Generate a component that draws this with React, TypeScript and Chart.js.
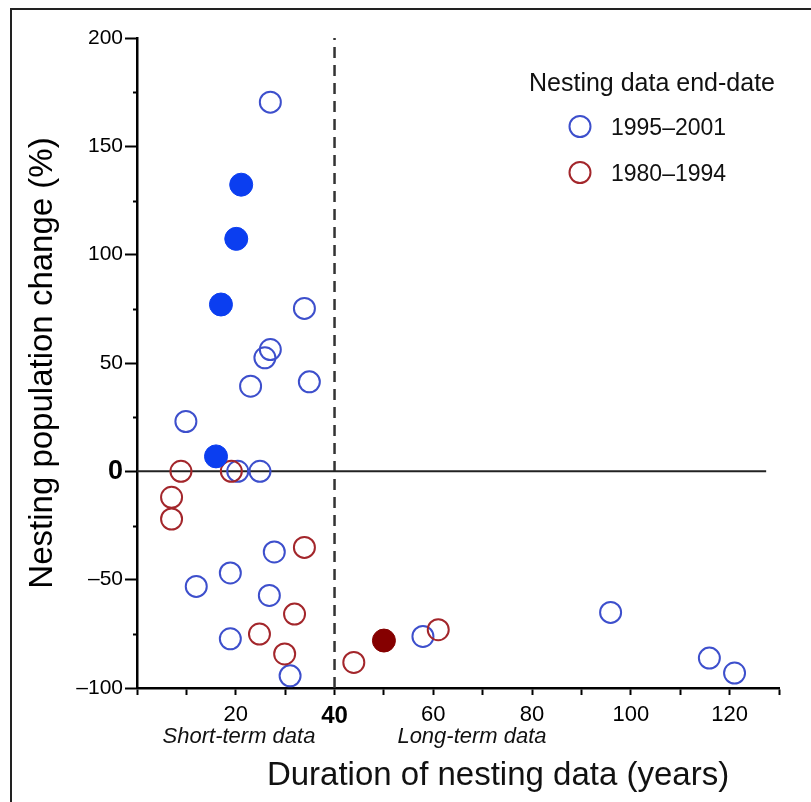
import React, { useEffect, useRef } from 'react';
import { Chart, registerables } from 'chart.js';

Chart.register(...registerables);

const FONT = '"Liberation Sans", Arial, Helvetica, sans-serif';

// 1995–2001 end-date, open circles
const recentX = [27, 33.9, 27, 25.9, 23, 34.9, 9.9, 20.4, 24.9, 27.8, 18.9, 12, 26.8, 18.9, 31, 57.9, 95.9, 115.9, 121];
const recentY = [170.4, 75.2, 56.2, 52.4, 39.3, 41.3, 23, 0, 0, -37.2, -46.9, -53.1, -57.3, -77.3, -94.4, -76.2, -65.1, -86.2, -93.1];

// 1980–1994 end-date, open circles
const olderX = [8.9, 19.1, 7, 7, 33.9, 31.9, 24.8, 29.9, 43.9, 61];
const olderY = [0, 0, -12, -22, -35.1, -65.9, -75.1, -84.3, -88.2, -73.1];

// highlighted (filled) points
const recentFilledX = [21.1, 20.1, 17, 16];
const recentFilledY = [132.3, 107.3, 77, 6.9];
const olderFilledX = [50];
const olderFilledY = [-78.1];

// reference lines
const zeroLineX = [0, 127.4];
const zeroLineY = [0, 0];
const splitLineX = [40, 40];
const splitLineY = [-100, 200];

const xTickValues = [20, 40, 60, 80, 100, 120];
const xTickLabels = ['20', '40', '60', '80', '100', '120'];
const yTickValues = [-100, -50, 0, 50, 100, 150, 200];
const yTickLabels = ['–100', '–50', '0', '50', '100', '150', '200'];

const legendTitle = 'Nesting data end-date';
const legendLabels = ['1995–2001', '1980–1994'];
const periodNotes = ['Short-term data', 'Long-term data'];
const xTitle = 'Duration of nesting data (years)';
const yTitle = 'Nesting population change (%)';

const BLUE = '#3d4fcc';
const RED = '#a3262b';
const BLUE_FILL = '#0b3ef0';
const RED_FILL = '#850000';

const pts = (xs: number[], ys: number[]) => xs.map((x, i) => ({ x, y: ys[i] }));

const annotationPlugin = {
  id: 'annotations',
  afterDraw(chart: any) {
    const { ctx, chartArea } = chart;
    const ys = chart.scales.y;
    ctx.save();
    // minor y ticks
    ctx.strokeStyle = '#000';
    ctx.lineWidth = 2;
    ys.ticks.forEach((t: any) => {
      if (t.value % 50 !== 0) {
        const py = Math.round(ys.getPixelForValue(t.value)) + 0.5;
        ctx.beginPath();
        ctx.moveTo(chartArea.left - 4, py);
        ctx.lineTo(chartArea.left, py);
        ctx.stroke();
      }
    });
    ctx.fillStyle = '#111';
    ctx.textBaseline = 'alphabetic';
    // period notes
    ctx.font = `italic 22px ${FONT}`;
    ctx.textAlign = 'center';
    ctx.fillText(periodNotes[0], 239, 743);
    ctx.fillText(periodNotes[1], 472, 743);
    // x title
    ctx.font = `33px ${FONT}`;
    ctx.fillText(xTitle, 498, 785);
    // legend
    ctx.textAlign = 'left';
    ctx.font = `25px ${FONT}`;
    ctx.fillText(legendTitle, 529, 91);
    const ds = chart.data.datasets;
    const rows = [126.5, 172.5];
    ctx.font = `23px ${FONT}`;
    legendLabels.forEach((lab, i) => {
      const d = ds.find((q: any) => q.label === lab);
      ctx.beginPath();
      ctx.arc(580, rows[i], 10.5, 0, Math.PI * 2);
      ctx.lineWidth = 2;
      ctx.strokeStyle = d ? d.borderColor : '#000';
      ctx.stroke();
      ctx.fillStyle = '#111';
      ctx.fillText(lab, 611, rows[i] + 8);
    });
    ctx.restore();
  },
};

export default function App() {
  const ref = useRef<HTMLCanvasElement | null>(null);

  useEffect(() => {
    if (!ref.current) return;
    const chart = new Chart(ref.current, {
      type: 'scatter',
      data: {
        datasets: [
          {
            label: 'filled-older',
            data: pts(olderFilledX, olderFilledY),
            backgroundColor: RED_FILL,
            borderColor: RED_FILL,
            borderWidth: 1,
            pointRadius: 11.5,
          },
          {
            label: 'filled-recent',
            data: pts(recentFilledX, recentFilledY),
            backgroundColor: BLUE_FILL,
            borderColor: BLUE_FILL,
            borderWidth: 1,
            pointRadius: 11.5,
          },
          {
            label: legendLabels[1],
            data: pts(olderX, olderY),
            backgroundColor: 'rgba(255,255,255,0)',
            borderColor: RED,
            borderWidth: 2,
            pointRadius: 10.5,
          },
          {
            label: legendLabels[0],
            data: pts(recentX, recentY),
            backgroundColor: 'rgba(255,255,255,0)',
            borderColor: BLUE,
            borderWidth: 2,
            pointRadius: 10.5,
          },
          {
            label: 'zero',
            data: pts(zeroLineX, zeroLineY),
            showLine: true,
            borderColor: '#222',
            borderWidth: 2,
            pointRadius: 0,
          },
          {
            label: 'split',
            data: pts(splitLineX, splitLineY),
            showLine: true,
            borderColor: '#333',
            borderWidth: 2.5,
            borderDash: [11, 7],
            pointRadius: 0,
          },
        ],
      },
      options: {
        responsive: false,
        animation: false,
        events: [],
        layout: { padding: { top: 38, right: 32, left: 0, bottom: 0 } },
        plugins: {
          legend: { display: false },
          tooltip: { enabled: false },
        },
        scales: {
          x: {
            type: 'linear',
            min: 0,
            max: 130,
            afterFit: (s: any) => {
              s.height = 114;
            },
            border: { display: true, color: '#000', width: 2.5 },
            grid: {
              display: true,
              drawOnChartArea: false,
              drawTicks: true,
              tickLength: 7,
              tickWidth: 2,
              tickColor: '#000',
            },
            ticks: {
              stepSize: 10,
              autoSkip: false,
              maxRotation: 0,
              padding: 7,
              color: '#000',
              font: (c: any) =>
                c.tick && c.tick.value === 40
                  ? { family: FONT, size: 24, weight: 'bold' }
                  : { family: FONT, size: 22 },
              callback: (v: any) => {
                const i = xTickValues.indexOf(Number(v));
                return i >= 0 ? xTickLabels[i] : '';
              },
            },
          },
          y: {
            type: 'linear',
            min: -100,
            max: 200,
            afterFit: (s: any) => {
              s.width = 137;
            },
            border: { display: true, color: '#000', width: 2.5 },
            grid: {
              display: true,
              drawOnChartArea: false,
              drawTicks: true,
              tickLength: 12,
              tickWidth: 2,
              tickColor: (c: any) => (c.tick && c.tick.value % 50 === 0 ? '#000' : 'rgba(0,0,0,0)'),
            },
            title: {
              display: true,
              text: yTitle,
              color: '#000',
              font: { family: FONT, size: 33 },
              padding: { top: 23, bottom: 0 },
            },
            ticks: {
              stepSize: 25,
              autoSkip: false,
              padding: 2,
              color: '#000',
              font: (c: any) =>
                c.tick && c.tick.value === 0
                  ? { family: FONT, size: 27, weight: 'bold' }
                  : { family: FONT, size: 21 },
              callback: (v: any) => {
                const i = yTickValues.indexOf(Number(v));
                return i >= 0 ? yTickLabels[i] : '';
              },
            },
          },
        },
      },
      plugins: [annotationPlugin],
    });
    return () => chart.destroy();
  }, []);

  return (
    <div
      style={{
        position: 'fixed',
        left: 0,
        top: 0,
        width: 811,
        height: 802,
        overflow: 'hidden',
        background: '#fff',
      }}
    >
      <div
        style={{
          position: 'absolute',
          left: 10,
          top: 8,
          right: -20,
          bottom: -20,
          borderLeft: '2px solid #222',
          borderTop: '2px solid #222',
        }}
      />
      <canvas
        ref={ref}
        width={811}
        height={802}
        style={{ position: 'absolute', left: 0, top: 0, width: 811, height: 802 }}
      />
    </div>
  );
}
